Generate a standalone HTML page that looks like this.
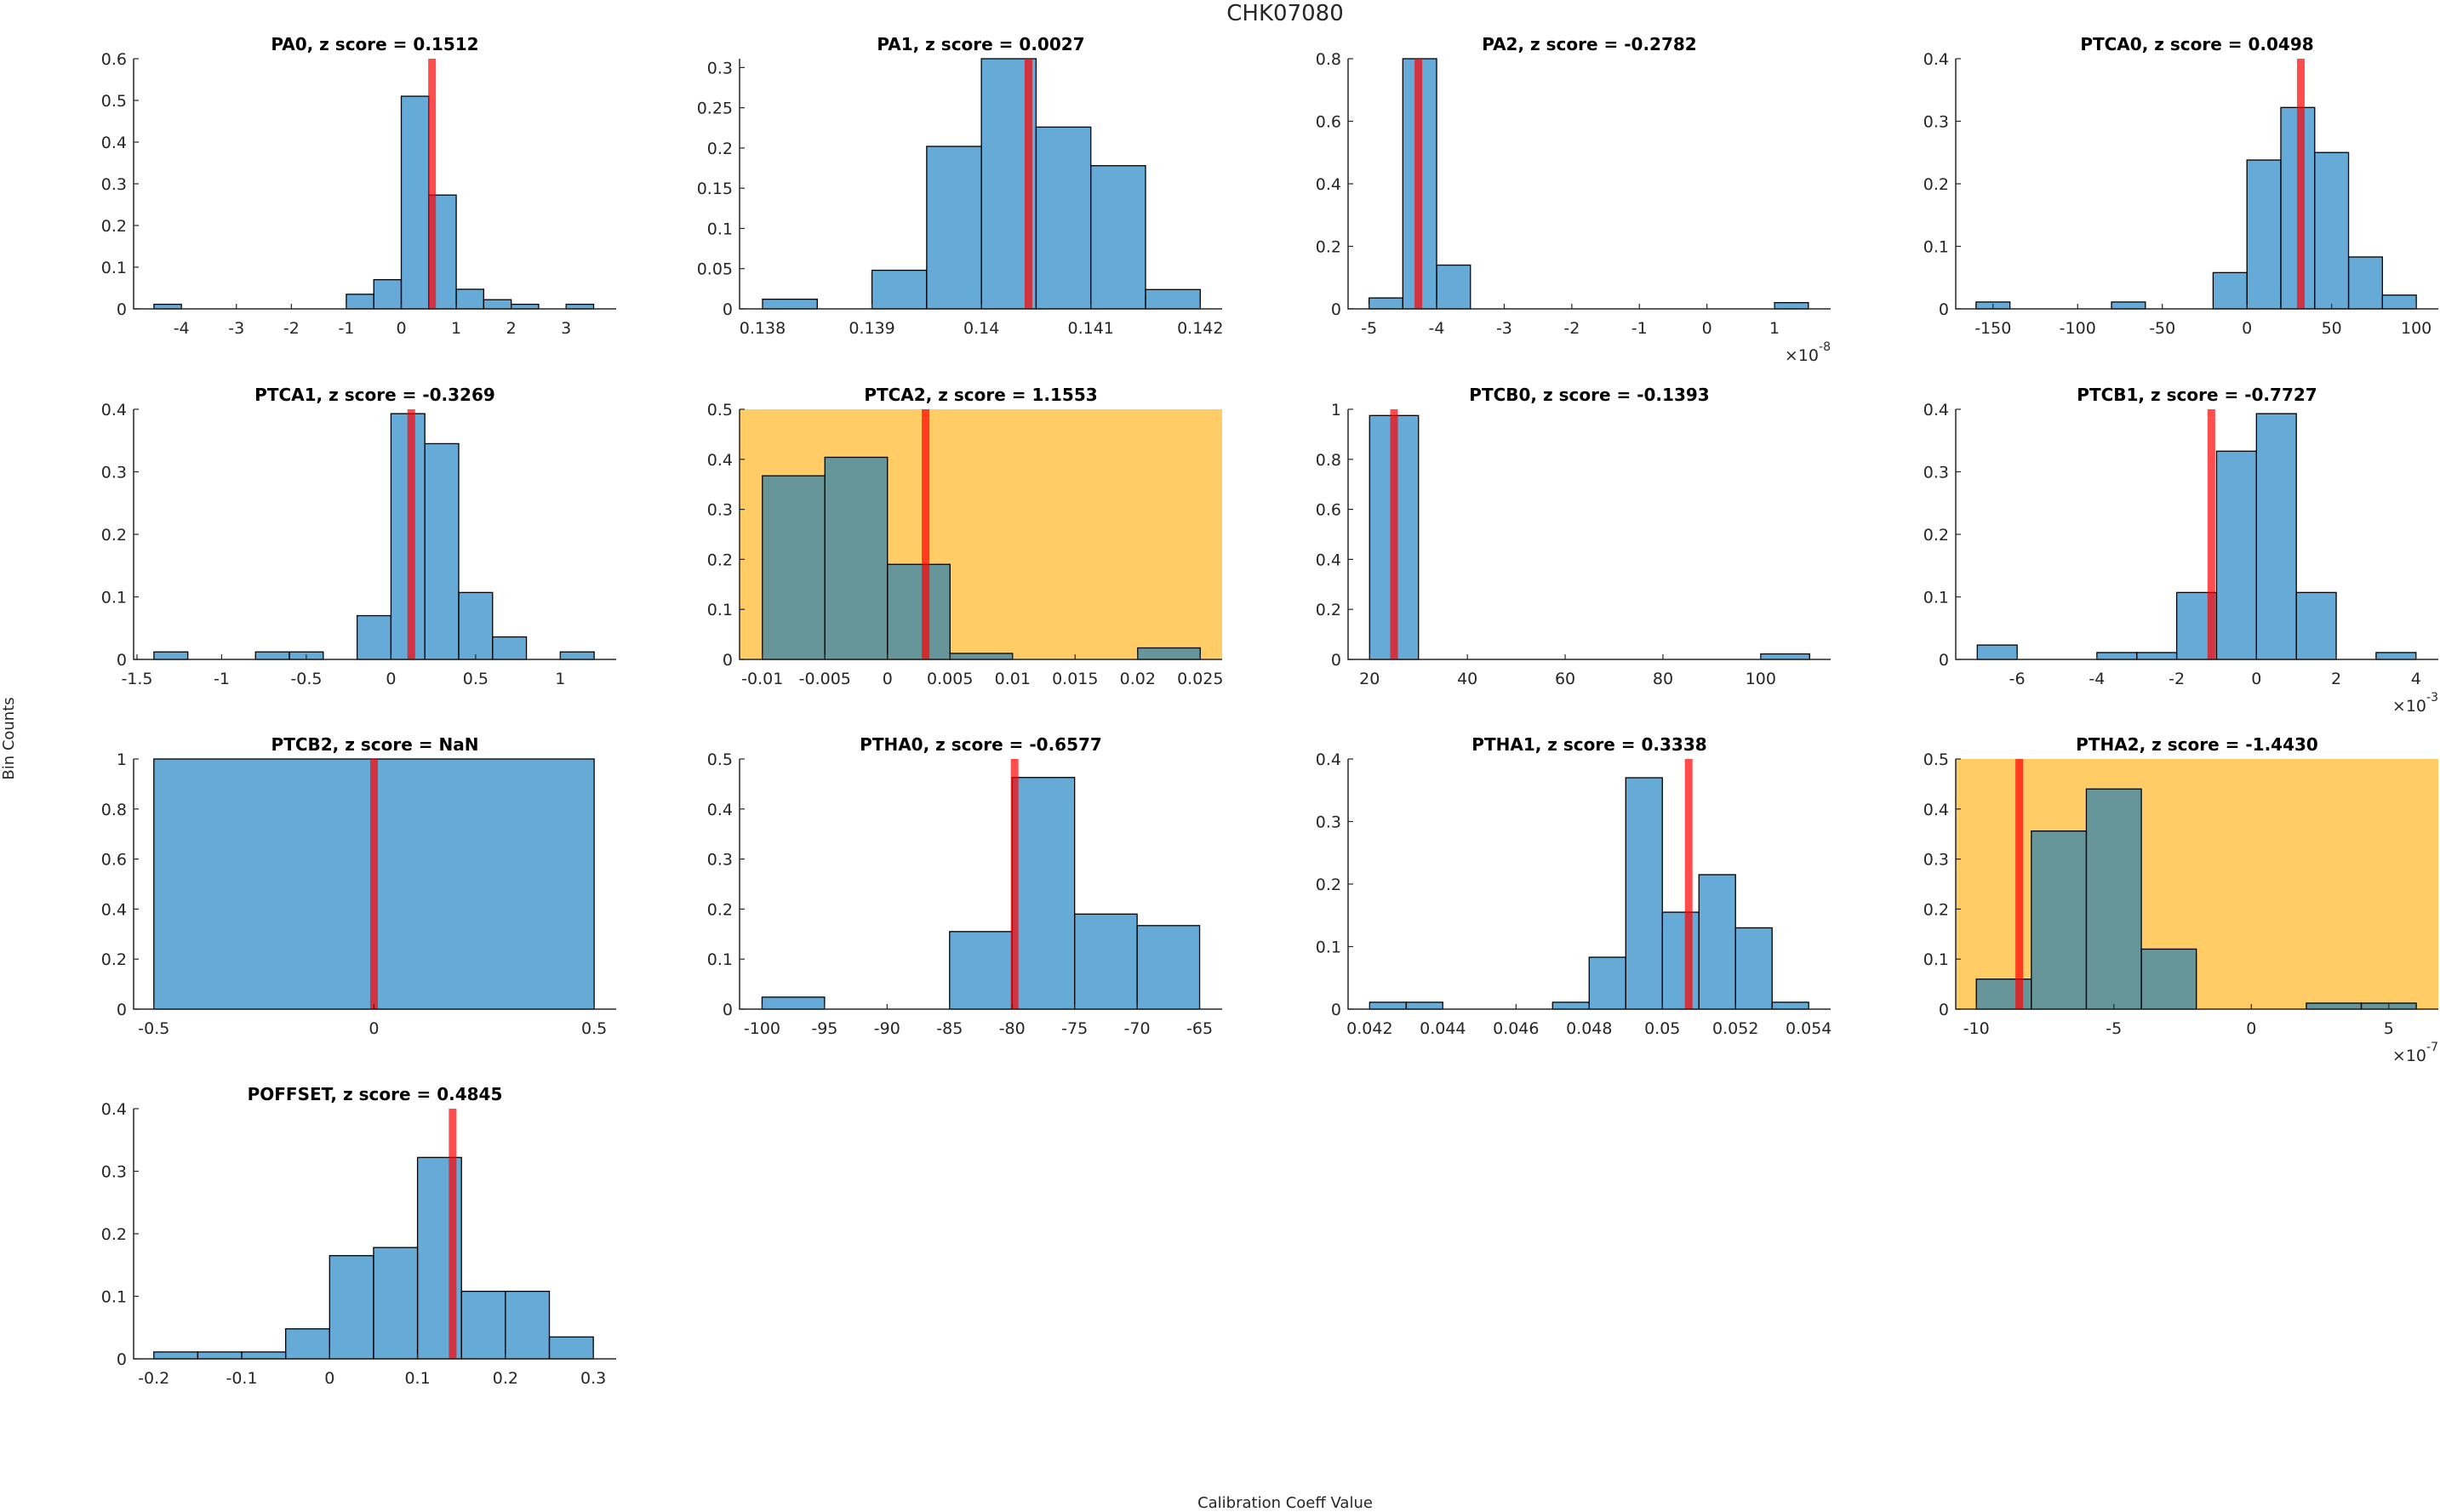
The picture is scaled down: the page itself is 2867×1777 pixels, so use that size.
<!DOCTYPE html>
<html><head><meta charset="utf-8">
<style>
html,body{margin:0;padding:0;background:#fff;}
svg{display:block;font-family:"DejaVu Sans","Liberation Sans",sans-serif;}
</style></head>
<body>
<svg id="fig" width="2867" height="1777" viewBox="0 0 2867 1777" xmlns="http://www.w3.org/2000/svg">
<text x="1510" y="24" font-size="26" text-anchor="middle" fill="#262626">CHK07080</text>
<text x="0" y="0" font-size="18" text-anchor="middle" fill="#262626" transform="translate(16,868) rotate(-90)">Bin Counts</text>
<text x="1510" y="1772" font-size="18" text-anchor="middle" fill="#262626">Calibration Coeff Value</text>
</svg>
<script>
const titles = ["PA0, z score = 0.1512","PA1, z score = 0.0027","PA2, z score = -0.2782","PTCA0, z score = 0.0498",
"PTCA1, z score = -0.3269","PTCA2, z score = 1.1553","PTCB0, z score = -0.1393","PTCB1, z score = -0.7727",
"PTCB2, z score = NaN","PTHA0, z score = -0.6577","PTHA1, z score = 0.3338","PTHA2, z score = -1.4430",
"POFFSET, z score = 0.4845"];
const binStart = [-4.5, 0.138, -5, -160, -1.4, -0.01, 20, -7, -0.5, -100, 0.042, -10, -0.2];
const binWidth = [0.5, 0.0005, 0.5, 20, 0.2, 0.005, 10, 1, 1, 5, 0.001, 2, 0.05];
const counts = [
 [0.011,0,0,0,0,0,0,0.035,0.07,0.51,0.273,0.047,0.022,0.011,0,0.011],
 [0.012,0,0.048,0.202,0.311,0.226,0.178,0.024],
 [0.035,0.8,0.14,0,0,0,0,0,0,0,0,0,0.02],
 [0.011,0,0,0,0.011,0,0,0.058,0.238,0.322,0.25,0.083,0.022],
 [0.012,0,0,0.012,0.012,0,0.07,0.393,0.345,0.107,0.036,0,0.012],
 [0.367,0.404,0.19,0.012,0,0,0.023],
 [0.975,0,0,0,0,0,0,0,0.022],
 [0.023,0,0,0.011,0.011,0.107,0.333,0.393,0.107,0,0.011],
 [1],
 [0.024,0,0,0.155,0.463,0.19,0.167],
 [0.011,0.011,0,0,0,0.011,0.083,0.37,0.155,0.215,0.13,0.011],
 [0.06,0.356,0.44,0.12,0,0,0.012,0.012],
 [0.011,0.011,0.011,0.048,0.165,0.178,0.322,0.108,0.108,0.035]
];
const markers = [0.56, 0.14043, -4.27, 31.8, 0.12, 0.00305, 25, -1.13, 0, -79.8, 0.05072, -8.44, 0.14];
const xMin = [-4.87, 0.13779, -5.31, -172, -1.52, -0.01182, 15.6, -7.54, -0.546, -101.8, 0.04141, -10.75, -0.223];
const xMax = [3.91, 0.1422, 1.83, 113, 1.33, 0.02675, 114.3, 4.56, 0.55, -63.2, 0.0546, 6.8, 0.326];
const yMax = [0.6, 0.311, 0.8, 0.4, 0.4, 0.5, 1, 0.4, 1, 0.5, 0.4, 0.5, 0.4];
const xTicks = [
 [-4,-3,-2,-1,0,1,2,3],
 [0.138,0.139,0.14,0.141,0.142],
 [-5,-4,-3,-2,-1,0,1],
 [-150,-100,-50,0,50,100],
 [-1.5,-1,-0.5,0,0.5,1],
 [-0.01,-0.005,0,0.005,0.01,0.015,0.02,0.025],
 [20,40,60,80,100],
 [-6,-4,-2,0,2,4],
 [-0.5,0,0.5],
 [-100,-95,-90,-85,-80,-75,-70,-65],
 [0.042,0.044,0.046,0.048,0.05,0.052,0.054],
 [-10,-5,0,5],
 [-0.2,-0.1,0,0.1,0.2,0.3]
];
const yTicks = [
 [0,0.1,0.2,0.3,0.4,0.5,0.6],
 [0,0.05,0.1,0.15,0.2,0.25,0.3],
 [0,0.2,0.4,0.6,0.8],
 [0,0.1,0.2,0.3,0.4],
 [0,0.1,0.2,0.3,0.4],
 [0,0.1,0.2,0.3,0.4,0.5],
 [0,0.2,0.4,0.6,0.8,1],
 [0,0.1,0.2,0.3,0.4],
 [0,0.2,0.4,0.6,0.8,1],
 [0,0.1,0.2,0.3,0.4,0.5],
 [0,0.1,0.2,0.3,0.4],
 [0,0.1,0.2,0.3,0.4,0.5],
 [0,0.1,0.2,0.3,0.4]
];
const exponents = ["", "", "-8", "", "", "", "", "-3", "", "", "", "-7", ""];
const flagged = [false,false,false,false,false,true,false,false,false,false,false,true,false];

const NS = "http://www.w3.org/2000/svg";
const svg = document.getElementById("fig");
const colX = [157, 869, 1584, 2298];
const rowY = [69, 481, 892, 1303];
const W = 567, H = 294;
function mk(tag, attrs, parent){
  const e = document.createElementNS(NS, tag);
  for (const k in attrs) e.setAttribute(k, attrs[k]);
  parent.appendChild(e);
  return e;
}
function fmt(v){ return String(v); }

titles.forEach((t, i) => {
  const L = colX[i % 4], T = rowY[Math.floor(i / 4)];
  const sx = v => L + (v - xMin[i]) / (xMax[i] - xMin[i]) * W;
  const sy = v => T + H - v / yMax[i] * H;
  const g = mk("g", {}, svg);
  
  
  if (flagged[i]) {
    const bg = mk("rect", {x: L, y: T, width: W, height: H, fill: "#ffcc66"}, g);
    
    
  }
  counts[i].forEach((c, k) => {
    const x0 = binStart[i] + k * binWidth[i], x1 = x0 + binWidth[i];
    const r = mk("rect", {x: sx(x0), y: sy(c), width: sx(x1) - sx(x0), height: Math.max(sy(0) - sy(c), 0),
      fill: "rgba(0,114,189,0.6)", stroke: "#000", "stroke-width": 1.3}, g);
    
    
  });
  const m = mk("line", {x1: sx(markers[i]), x2: sx(markers[i]), y1: T, y2: T + H, stroke: "rgba(255,0,0,0.7)", "stroke-width": 9}, g);
  
  
  const ax = mk("path", {d: `M${L},${T}V${T+H}H${L+W}`, fill: "none", stroke: "#262626", "stroke-width": 1.5}, g);
  
  
  xTicks[i].forEach(v => {
    const x = sx(v);
    mk("line", {x1: x, x2: x, y1: T + H, y2: T + H - 6, stroke: "#262626", "stroke-width": 1.2}, g);
    const tx = mk("text", {x: x, y: T + H + 29, "font-size": 19, "text-anchor": "middle", fill: "#262626"}, g);
    tx.textContent = fmt(v);
    
    
  });
  yTicks[i].forEach(v => {
    const y = sy(v);
    mk("line", {x1: L, x2: L + 6, y1: y, y2: y, stroke: "#262626", "stroke-width": 1.2}, g);
    const ty = mk("text", {x: L - 8, y: y + 7, "font-size": 19, "text-anchor": "end", fill: "#262626"}, g);
    ty.textContent = fmt(v);
    
    
  });
  const tt = mk("text", {x: L + W / 2, y: T - 10, "font-size": 20, "font-weight": "bold", "text-anchor": "middle", fill: "#000"}, g);
  tt.textContent = t;
  
  
  if (exponents[i]) {
    const ex = mk("text", {x: L + W, y: T + H + 61, "font-size": 19, "text-anchor": "end", fill: "#262626"}, g);
    
    
    const a = mk("tspan", {}, ex); a.textContent = "×10";
    const b = mk("tspan", {dy: -12, "font-size": 14}, ex); b.textContent = exponents[i];
  }
});
</script>
</body></html>
